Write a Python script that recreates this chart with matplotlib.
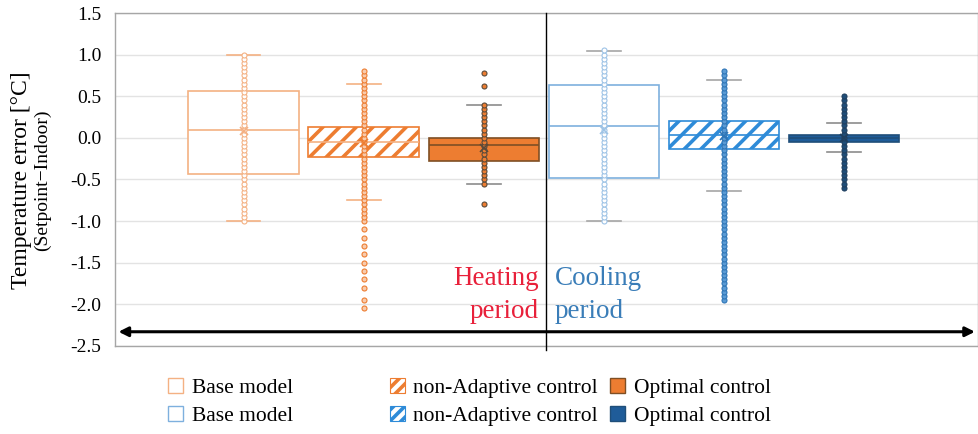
import numpy as np
import matplotlib
matplotlib.use('Agg')
from matplotlib import pyplot as plt
from matplotlib.patches import Patch

plt.rcParams['font.family'] = ['Liberation Serif', 'DejaVu Serif']
plt.rcParams['hatch.linewidth'] = 2.6

# box statistics: heating then cooling, base / non-adaptive / optimal
labels = ['Base model', 'non-Adaptive control', 'Optimal control',
          'Base model', 'non-Adaptive control', 'Optimal control']
q1 = [-0.44, -0.23, -0.28, -0.48, -0.14, -0.05]
med = [0.09, -0.05, -0.09, 0.14, 0.03, 0.00]
q3 = [0.56, 0.13, 0.00, 0.64, 0.20, 0.04]
whislo = [-1.00, -0.75, -0.55, -1.00, -0.64, -0.17]
whishi = [1.00, 0.65, 0.40, 1.04, 0.70, 0.18]
means = [0.08, -0.06, -0.12, 0.10, 0.02, 0.00]

# individual error values
heat_base_pts = [-1.00, -0.95, -0.90, -0.85, -0.80, -0.75, -0.70, -0.65, -0.60, -0.55,
                 -0.50, -0.45, -0.40, -0.35, -0.30, -0.25, -0.20, -0.15, -0.10, -0.05,
                 0.00, 0.05, 0.10, 0.15, 0.20, 0.25, 0.30, 0.35, 0.40, 0.45, 0.50,
                 0.55, 0.60, 0.65, 0.70, 0.75, 0.80, 0.85, 0.90, 0.95, 1.00]
heat_nonad_pts = [-2.05, -1.95, -1.80, -1.70, -1.60, -1.50, -1.40, -1.30, -1.20, -1.10,
                  -1.00, -0.95, -0.90, -0.85, -0.80, -0.75, -0.70, -0.65, -0.60, -0.55,
                  -0.50, -0.45, -0.40, -0.35, -0.30, -0.25, -0.20, -0.15, -0.10, -0.05,
                  0.00, 0.05, 0.10, 0.15, 0.20, 0.25, 0.30, 0.35, 0.40, 0.45, 0.50,
                  0.55, 0.60, 0.65, 0.70, 0.75, 0.80]
heat_opt_pts = [-0.80, -0.55, -0.50, -0.45, -0.40, -0.35, -0.30, -0.25, -0.20, -0.15,
                -0.10, -0.05, 0.00, 0.05, 0.10, 0.15, 0.20, 0.25, 0.30, 0.35, 0.40,
                0.62, 0.78]
cool_base_pts = [-1.00, -0.95, -0.90, -0.85, -0.80, -0.75, -0.70, -0.65, -0.60, -0.55,
                 -0.50, -0.45, -0.40, -0.35, -0.30, -0.25, -0.20, -0.15, -0.10, -0.05,
                 0.00, 0.05, 0.10, 0.15, 0.20, 0.25, 0.30, 0.35, 0.40, 0.45, 0.50,
                 0.55, 0.60, 0.65, 0.70, 0.75, 0.80, 0.85, 0.90, 0.95, 1.00, 1.05]
cool_nonad_pts = [-1.95, -1.90, -1.85, -1.80, -1.75, -1.70, -1.65, -1.60, -1.55, -1.50,
                  -1.45, -1.40, -1.35, -1.30, -1.25, -1.20, -1.15, -1.10, -1.05, -1.00,
                  -0.95, -0.90, -0.85, -0.80, -0.75, -0.70, -0.65, -0.60, -0.55, -0.50,
                  -0.45, -0.40, -0.35, -0.30, -0.25, -0.20, -0.15, -0.10, -0.05, 0.00,
                  0.05, 0.10, 0.15, 0.20, 0.25, 0.30, 0.35, 0.40, 0.45, 0.50, 0.55,
                  0.60, 0.65, 0.70, 0.75, 0.80]
cool_opt_pts = [-0.60, -0.55, -0.50, -0.45, -0.40, -0.35, -0.30, -0.25, -0.20, -0.15,
                -0.10, -0.05, 0.00, 0.05, 0.10, 0.15, 0.20, 0.25, 0.30, 0.35, 0.40,
                0.45, 0.50]
points = [heat_base_pts, heat_nonad_pts, heat_opt_pts,
          cool_base_pts, cool_nonad_pts, cool_opt_pts]

# styling per box
face = ['white', 'white', '#ED7D31', 'white', 'white', '#1F5C99']
edge = ['#F4B183', '#F4B183', '#7F4F24', '#7EB0DE', '#9DC3E6', '#1F4E79']
hatch = [None, '//', None, None, '//', None]
hatch_col = [None, '#ED7D31', None, None, '#2E8BD8', None]
cap_col = ['#F4B183', '#F4B183', '#8C8C8C', '#A6A6A6', '#A6A6A6', '#8C8C8C']
med_col = ['#F4B183', '#F4B183', '#7F4F24', '#7EB0DE', '#2E8BD8', '#1F4E79']
pt_face = ['white', '#F8CBAD', '#ED7D31', 'white', '#5B9BD5', '#1F4E79']
pt_edge = ['#F4B183', '#ED7D31', '#5A4A3A', '#9DC3E6', '#2E75B6', '#1F3F5F']

pos = np.arange(6)

fig = plt.figure(figsize=(9.79, 4.34), dpi=100)
ax = fig.add_axes([0.1175, 0.203, 0.881, 0.767])

stats = []
for i in range(6):
    stats.append(dict(label=labels[i], q1=q1[i], med=med[i], q3=q3[i],
                      whislo=whislo[i], whishi=whishi[i], mean=means[i], fliers=[]))

bp = ax.bxp(stats, positions=pos, widths=0.92, patch_artist=True, showmeans=True,
            capwidths=0.28, manage_ticks=False)

for i in range(6):
    b = bp['boxes'][i]
    b.set_facecolor(face[i])
    b.set_edgecolor(hatch_col[i] if hatch[i] else edge[i])
    b.set_linewidth(1.2)
    if hatch[i]:
        b.set_hatch(hatch[i])
    bp['medians'][i].set_color(med_col[i])
    bp['medians'][i].set_linewidth(1.2)
    for k in (2 * i, 2 * i + 1):
        bp['caps'][k].set_color(cap_col[i])
        bp['caps'][k].set_linewidth(1.2)
        bp['whiskers'][k].set_color(cap_col[i])
        bp['whiskers'][k].set_linewidth(1.0)
    ax.plot(np.full(len(points[i]), pos[i]), points[i], 'o', ms=3.6,
            mfc=pt_face[i], mec=pt_edge[i], mew=0.8, zorder=4)
    bp['means'][i].set(marker='x', markersize=6, markeredgecolor=pt_edge[i],
                       markeredgewidth=1.2, zorder=5)

ax.set_xlim(-1.07, 6.11)
ax.set_ylim(-2.5, 1.5)
ax.set_yticks(np.arange(-2.5, 1.51, 0.5))
ax.set_yticklabels(['%.1f' % v for v in np.arange(-2.5, 1.51, 0.5)], fontsize=14)
ax.set_xticks([])
ax.tick_params(axis='y', length=0, pad=10)
ax.yaxis.grid(True, color='#E3E3E3', linewidth=1.0)
ax.set_axisbelow(True)
for s in ax.spines.values():
    s.set_color('#A6A6A6')
    s.set_linewidth(1.0)

# season divider and time arrow
ax.plot([2.52, 2.52], [1.5, -2.55], color='black', lw=1.0, clip_on=False, zorder=6)
ax.annotate('', xy=(0.997, -2.33), xytext=(0.004, -2.33),
            xycoords=('axes fraction', 'data'), textcoords=('axes fraction', 'data'),
            arrowprops=dict(arrowstyle='<|-|>', color='black', lw=2.2,
                            mutation_scale=14, shrinkA=0, shrinkB=0))

ax.text(2.46, -1.69, 'Heating', color='#E8203A', fontsize=19.5, ha='right', va='center')
ax.text(2.46, -2.09, 'period', color='#E8203A', fontsize=19.5, ha='right', va='center')
ax.text(2.59, -1.69, 'Cooling', color='#3A7DB8', fontsize=19.5, ha='left', va='center')
ax.text(2.59, -2.09, 'period', color='#3A7DB8', fontsize=19.5, ha='left', va='center')

fig.text(0.022, 0.585, 'Temperature error [°C]', rotation=90, fontsize=17,
         ha='center', va='center')
fig.text(0.043, 0.585, '(Setpoint\u2212Indoor)', rotation=90, fontsize=14,
         ha='center', va='center')

# legend in three columns
col_x = [0.172, 0.398, 0.623]
for c in range(3):
    hs = []
    for r in range(2):
        i = 3 * r + c
        if hatch[i]:
            hs.append(Patch(facecolor='white', edgecolor=hatch_col[i], hatch='///',
                            linewidth=0.8, label=labels[i]))
        else:
            hs.append(Patch(facecolor=face[i], edgecolor=edge[i], linewidth=1.0,
                            label=labels[i]))
    fig.legend(handles=hs, loc='upper left', bbox_to_anchor=(col_x[c], 0.13),
               frameon=False, fontsize=15.5, handlelength=0.7, handleheight=0.7,
               handletextpad=0.4, labelspacing=0.4, borderpad=0, borderaxespad=0)

fig.savefig('out.png', dpi=100)
